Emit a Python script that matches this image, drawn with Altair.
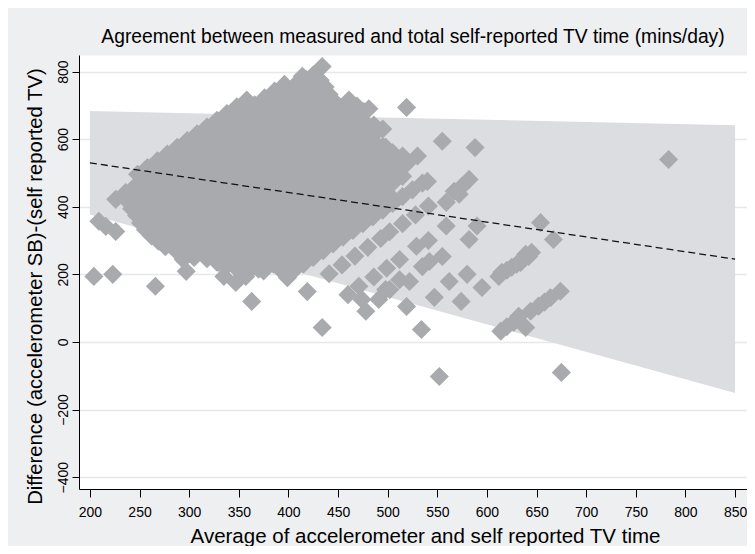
import altair as alt
import pandas as pd

# ---- regression-based limits of agreement ----
band_avg = [200, 850]
band_upper = [683, 641]
band_lower = [377, -151]
mean_avg = [200, 850]
mean_diff = [530, 245]

# ---- dense cluster, upper part (average, difference) ----
cluster_a_avg = [
    248, 258, 268, 278, 288, 298, 308, 318, 328, 338, 348, 358,
    226, 236, 246, 256, 266, 276, 286, 296, 306, 316, 326, 336, 346, 356, 366, 376, 386, 396,
    403, 406, 410, 414, 418, 421, 425, 434, 438,
    238, 248, 258, 268, 278, 288, 298, 308, 318, 328, 338, 348, 358, 368, 378, 388, 398, 408, 418,
    242, 252, 262, 272, 282, 292, 302, 312, 322, 332, 342, 352, 362, 372, 382, 392, 402, 412, 422, 432,
    247, 257, 267, 277, 287, 297, 307, 317, 327, 337, 347, 357, 367, 377, 387, 397, 407, 417, 427, 437,
    251, 261, 271, 281, 291, 301, 311, 321, 331, 341, 351, 361, 371, 381, 391, 401, 411, 421, 431, 441,
    256, 266, 276, 286, 296, 306, 316, 326, 336, 346, 356, 366, 376, 386, 396, 406, 416, 426, 436, 446,
]
cluster_a_diff = [
    496, 516, 536, 556, 576, 596, 616, 636, 656, 676, 696, 716,
    422, 442, 462, 482, 502, 522, 542, 562, 582, 602, 622, 642, 662, 682, 702, 722, 742, 762,
    739, 752, 770, 786, 762, 776, 790, 815, 739,
    416, 436, 456, 476, 496, 516, 536, 556, 576, 596, 616, 636, 656, 676, 696, 716, 736, 756, 776,
    394, 414, 434, 454, 474, 494, 514, 534, 554, 574, 594, 614, 634, 654, 674, 694, 714, 734, 754, 774,
    374, 394, 414, 434, 454, 474, 494, 514, 534, 554, 574, 594, 614, 634, 654, 674, 694, 714, 734, 754,
    352, 372, 392, 412, 432, 452, 472, 492, 512, 532, 552, 572, 592, 612, 632, 652, 672, 692, 712, 732,
    332, 352, 372, 392, 412, 432, 452, 472, 492, 512, 532, 552, 572, 592, 612, 632, 652, 672, 692, 712,
]

# ---- dense cluster, middle part ----
cluster_b_avg = [
    262, 272, 282, 292, 302, 312, 322, 332, 342, 352, 362, 372, 382, 392, 402, 412, 422, 432, 442, 452, 461,
    269, 279, 289, 299, 309, 319, 329, 339, 349, 359, 369, 379, 389, 399, 409, 419, 429, 439, 449, 459, 469,
    276, 286, 296, 306, 316, 326, 336, 346, 356, 366, 376, 386, 396, 406, 416, 426, 436, 446, 456, 466, 476, 481,
    286, 296, 306, 316, 326, 336, 346, 356, 366, 376, 386, 396, 406, 416, 426, 436, 446, 456, 466, 476,
    296, 306, 316, 326, 336, 346, 356, 366, 376, 386, 396, 406, 416, 426, 436, 446, 456, 466, 476, 486,
    305, 315, 325, 335, 345, 355, 365, 375, 385, 395, 405, 415, 425, 435, 445, 455, 465, 475, 485, 495, 519,
    318, 328, 338, 348, 358, 368, 378, 388, 398, 408, 418, 428, 438, 448, 458, 468, 478, 488, 495,
]
cluster_b_diff = [
    314, 334, 354, 374, 394, 414, 434, 454, 474, 494, 514, 534, 554, 574, 594, 614, 634, 654, 674, 694, 716,
    298, 318, 338, 358, 378, 398, 418, 438, 458, 478, 498, 518, 538, 558, 578, 598, 618, 638, 658, 678, 698,
    282, 302, 322, 342, 362, 382, 402, 422, 442, 462, 482, 502, 522, 542, 562, 582, 602, 622, 642, 662, 682, 690,
    272, 292, 312, 332, 352, 372, 392, 412, 432, 452, 472, 492, 512, 532, 552, 572, 592, 612, 632, 652,
    262, 282, 302, 322, 342, 362, 382, 402, 422, 442, 462, 482, 502, 522, 542, 562, 582, 602, 622, 642,
    250, 270, 290, 310, 330, 350, 370, 390, 410, 430, 450, 470, 490, 510, 530, 550, 570, 590, 610, 630, 694,
    246, 266, 286, 306, 326, 346, 366, 386, 406, 426, 446, 466, 486, 506, 526, 546, 566, 586, 579,
]

# ---- dense cluster, lower part ----
cluster_c_avg = [
    328, 338, 348, 358, 368, 378, 388, 398, 408, 418, 428, 438, 448, 458, 468, 478, 488, 498,
    338, 348, 358, 368, 378, 388, 398, 408, 418, 428, 438, 448, 458, 468, 478, 488, 498, 505,
    348, 358, 368, 378, 388, 398, 408, 418, 428, 438, 448, 458, 468, 478, 488, 498, 508, 515,
    360, 370, 380, 390, 400, 410, 420, 430, 440, 450, 460, 470, 480, 490, 500, 510, 520, 530, 555,
    375, 385, 395, 405, 415, 425, 435, 445, 455, 465, 475, 485, 495, 505, 515,
    392, 402, 412, 422, 432, 442, 452, 462, 472, 482, 492, 502,
    405, 415, 425, 435, 445, 455, 465, 475, 485, 495, 505, 515, 525, 535, 540, 588,
]
cluster_c_diff = [
    236, 256, 276, 296, 316, 336, 356, 376, 396, 416, 436, 456, 476, 496, 516, 536, 556, 576,
    226, 246, 266, 286, 306, 326, 346, 366, 386, 406, 426, 446, 466, 486, 506, 526, 546, 560,
    216, 236, 256, 276, 296, 316, 336, 356, 376, 396, 416, 436, 456, 476, 496, 516, 536, 550,
    210, 230, 250, 270, 290, 310, 330, 350, 370, 390, 410, 430, 450, 470, 490, 510, 530, 550, 594,
    210, 230, 250, 270, 290, 310, 330, 350, 370, 390, 410, 430, 450, 470, 490,
    214, 234, 254, 274, 294, 314, 334, 354, 374, 394, 414, 434,
    210, 230, 250, 270, 290, 310, 330, 350, 370, 390, 410, 430, 450, 470, 475, 575,
]

# ---- sparser streaks on the right ----
right_avg = [
    419, 441, 454, 467, 480, 493, 502, 515, 528, 541, 559, 567, 575, 582, 572,
    460, 471, 486, 499, 512, 529, 541, 559,
    474, 491, 498, 502, 512, 522, 535, 542, 555, 582, 590,
    519, 547, 562, 580, 654,
    534, 574, 595, 612, 615, 620, 625, 630, 634, 642, 645, 639, 667, 783,
    552, 614, 620, 627, 632, 639, 644, 652, 658, 664, 674, 675,
]
right_diff = [
    149, 202, 228, 254, 280, 306, 326, 350, 376, 402, 413, 446, 461, 481, 437,
    140, 165, 192, 218, 244, 283, 300, 343,
    126, 126, 155, 155, 184, 179, 223, 238, 253, 303, 343,
    105, 132, 179, 200, 353,
    37, 120, 161, 194, 206, 212, 221, 230, 235, 253, 265, 259, 303, 540,
    -102, 32, 45, 58, 76, 43, 91, 106, 118, 131, 150, -90,
]

# ---- isolated points below / left of the cluster ----
low_avg = [204, 223, 266, 209, 216, 226, 259, 294, 297, 363, 335, 347, 357, 330, 370, 382, 399, 434, 478]
low_diff = [194, 200, 165, 357, 342, 327, 333, 244, 209, 120, 194, 176, 194, 235, 215, 235, 190, 43, 91]

points = pd.DataFrame({
    "avg": cluster_a_avg + cluster_b_avg + cluster_c_avg + right_avg + low_avg,
    "diff": cluster_a_diff + cluster_b_diff + cluster_c_diff + right_diff + low_diff,
})
band = pd.DataFrame({"avg": band_avg, "diff": band_lower, "upper": band_upper})
meanline = pd.DataFrame({"avg": mean_avg, "diff": mean_diff})
title_df = pd.DataFrame({"t": ["Agreement between measured and total self-reported TV time (mins/day)"]})

FONT = "Liberation Sans"
x_title = "Average of accelerometer and self reported TV time"
y_title = "Difference (accelerometer SB)-(self reported TV)"

xaxis = alt.Axis(
    values=list(range(200, 851, 50)), title=x_title, grid=False,
    domainColor="#000000", domainWidth=1, tickColor="#000000", tickSize=8, tickWidth=1,
    labelFont=FONT, labelFontSize=14, labelColor="#000000", labelPadding=8,
    titleFont=FONT, titleFontSize=20.5, titleFontWeight="normal", titleColor="#000000",
    titleX=346, titleY=53, titleBaseline="alphabetic", titleAlign="center",
)
yaxis = alt.Axis(
    values=list(range(-400, 801, 200)), title=y_title, grid=True,
    gridColor="#e8e8e8", gridWidth=1.5,
    domainColor="#000000", domainWidth=1, tickColor="#000000", tickSize=7, tickWidth=1,
    labelFont=FONT, labelFontSize=14, labelColor="#000000", labelPadding=2,
    labelAngle=270, labelAlign="center", labelBaseline="bottom",
    titleFont=FONT, titleFontSize=20.3, titleFontWeight="normal", titleColor="#000000",
    titleAngle=270, titleX=-44, titleY=231, titleBaseline="middle", titleAlign="center",
)
xs = alt.Scale(domain=[189, 862], nice=False, zero=False)
ys = alt.Scale(domain=[-435, 849], nice=False, zero=False)

X = alt.X("avg:Q", scale=xs, axis=xaxis)
Y = alt.Y("diff:Q", scale=ys, axis=yaxis)

band_layer = alt.Chart(band).mark_area(color="#dcdde0", opacity=1).encode(
    x=X, y=Y, y2="upper:Q"
)
pt_layer = alt.Chart(points).mark_point(
    shape="diamond", filled=True, size=365, color="#a9aaad", opacity=1, strokeWidth=0
).encode(x=X, y=Y)
line_layer = alt.Chart(meanline).mark_line(
    color="#111111", strokeWidth=1.3, strokeDash=[7, 4]
).encode(x=X, y=Y)
title_layer = alt.Chart(title_df).mark_text(
    font=FONT, fontSize=19.3, color="#000000", align="center", baseline="middle"
).encode(text="t:N", x=alt.value(334), y=alt.value(-18))

chart = alt.layer(band_layer, pt_layer, line_layer, title_layer).properties(
    width=668, height=434,
    autosize=alt.AutoSizeParams(type="none"),
    padding={"left": 71, "top": 47, "right": 0, "bottom": 57},
    background="#eeeff1",
).configure_view(fill="#ffffff", stroke="transparent")

chart.save("out.html", embed_options={"renderer": "svg", "actions": False})
